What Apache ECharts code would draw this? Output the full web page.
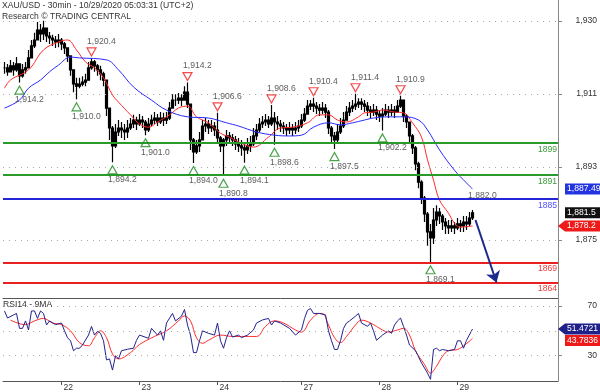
<!DOCTYPE html>
<html><head><meta charset="utf-8">
<script src="https://cdn.jsdelivr.net/npm/echarts@6/dist/echarts.min.js"></script>
<style>html,body{margin:0;padding:0;background:#fff}#c{width:600px;height:392px}</style>
</head><body><div id="c"></div>
<script>
const titleLine1 = 'XAU/USD - 30min - 10/29/2020 05:03:31 (UTC+2)';
const titleLine2 = 'Research © TRADING CENTRAL';
const rsiTitle = 'RSI14 - 9MA';
const slotCount = 185;
const dateIdx = [19, 45, 71, 99, 125, 151];
const dateLabels = ['22', '23', '24', '27', '28', '29'];

const closeP = [
1917.9,1916.9,1918.4,1917.4,1918.9,1915.9,1917.4,1917.9,1920.4,1923.4,
1924.9,1927.4,1926.4,1927.9,1925.9,1925.4,1924.9,1924.4,1924.9,1923.9,
1922.9,1920.9,1917.4,1913.9,1913.3,1913.8,1914.3,1914.8,1917.9,1919.4,
1918.4,1917.4,1916.4,1914.8,1907.8,1902.8,1898.3,1901.8,1902.8,1902.3,
1901.8,1902.8,1903.8,1904.8,1903.8,1904.8,1904.3,1902.3,1903.8,1904.8,
1905.3,1904.3,1905.3,1904.8,1905.3,1907.8,1909.8,1909.8,1910.3,1909.8,
1911.8,1908.8,1899.8,1896.8,1898.3,1899.8,1903.3,1903.8,1902.8,1903.3,
1902.3,1900.3,1898.3,1899.8,1900.8,1900.3,1899.8,1898.8,1898.3,1897.8,
1897.3,1898.3,1898.8,1900.8,1902.3,1903.8,1904.3,1904.8,1903.8,1905.3,
1904.3,1903.8,1903.3,1902.8,1902.3,1902.8,1902.3,1902.8,1903.3,1904.8,
1906.3,1908.3,1908.8,1908.3,1907.8,1907.3,1907.8,1906.8,1902.8,1900.8,
1899.8,1901.8,1903.3,1904.8,1906.8,1907.8,1908.3,1908.8,1909.3,1908.8,
1908.3,1907.3,1906.8,1907.3,1906.3,1905.8,1906.3,1907.3,1906.8,1907.3,
1906.8,1908.3,1909.8,1905.8,1904.3,1900.8,1897.8,1893.8,1889.2,1885.2,
1881.2,1876.7,1875.2,1879.7,1881.7,1880.7,1879.2,1878.2,1877.7,1878.2,
1877.7,1878.7,1878.2,1879.2,1878.7,1880.2,1881.5
];
const highP = [
1919.4,1918.9,1919.9,1919.4,1920.6,1917.9,1918.9,1919.4,1922.4,1924.9,
1926.7,1929.4,1928.9,1929.7,1927.9,1926.9,1926.2,1925.9,1926.4,1925.4,
1924.4,1922.9,1920.4,1916.4,1915.4,1915.4,1915.8,1916.4,1919.4,1920.4,
1919.9,1918.9,1918.4,1916.9,1914.8,1907.8,1903.3,1903.8,1904.8,1904.3,
1903.8,1904.8,1905.3,1906.1,1905.6,1906.3,1905.8,1904.8,1905.3,1906.1,
1906.8,1906.3,1906.8,1906.6,1906.8,1909.3,1911.3,1911.3,1911.6,1911.3,
1913.3,1914.2,1908.8,1900.3,1899.8,1901.8,1904.8,1905.3,1904.8,1904.8,
1904.3,1906.6,1900.8,1900.3,1902.3,1901.8,1901.3,1900.8,1900.3,1899.8,
1899.3,1900.3,1900.8,1902.8,1903.8,1905.3,1905.8,1906.3,1905.8,1908.6,
1906.8,1905.8,1904.8,1904.3,1903.8,1904.3,1903.8,1904.3,1904.8,1906.3,
1907.8,1909.8,1909.8,1910.4,1909.3,1908.8,1909.3,1908.8,1907.3,1903.3,
1901.8,1903.8,1905.3,1906.8,1908.3,1909.3,1909.8,1911.4,1910.3,1910.3,
1909.8,1909.3,1908.3,1908.8,1908.3,1907.3,1907.8,1908.8,1908.3,1908.8,
1908.3,1909.8,1910.9,1909.8,1906.3,1903.8,1901.3,1898.3,1894.3,1889.7,
1885.7,1881.7,1878.7,1882.7,1883.4,1882.7,1881.2,1880.2,1879.7,1879.7,
1879.2,1880.2,1879.7,1880.7,1880.7,1881.7,1882.2
];
const lowP = [
1916.4,1915.9,1916.9,1915.9,1916.9,1914.2,1915.4,1916.4,1917.9,1920.4,
1922.9,1924.9,1924.4,1924.9,1924.4,1923.9,1923.4,1922.9,1923.1,1922.4,
1921.4,1919.4,1915.9,1911.8,1910.0,1912.8,1913.3,1913.3,1914.8,1917.4,
1916.9,1915.9,1914.8,1913.3,1905.8,1899.8,1894.2,1897.8,1900.8,1900.3,
1899.8,1900.3,1902.3,1902.8,1902.3,1903.3,1902.8,1901.0,1901.8,1903.3,
1903.8,1903.3,1903.8,1903.3,1903.8,1904.8,1907.8,1908.3,1908.8,1908.3,
1909.8,1907.8,1897.3,1894.0,1896.3,1896.8,1900.3,1901.8,1901.3,1901.8,
1900.8,1898.8,1896.8,1890.8,1898.3,1898.8,1898.3,1897.3,1896.8,1895.8,
1894.1,1896.3,1896.8,1898.3,1899.8,1901.8,1902.8,1903.3,1902.8,1903.3,
1898.6,1902.3,1901.8,1901.3,1900.8,1901.3,1900.8,1901.3,1901.8,1902.8,
1904.3,1906.3,1907.3,1906.8,1906.3,1905.8,1906.3,1905.3,1901.3,1899.3,
1897.5,1899.3,1901.3,1902.8,1904.8,1905.8,1906.8,1907.3,1907.8,1907.3,
1906.8,1905.8,1905.3,1905.8,1904.8,1904.3,1902.2,1905.8,1905.3,1905.8,
1905.3,1906.8,1907.8,1904.3,1902.8,1899.3,1896.3,1892.2,1887.7,1883.7,
1879.2,1873.2,1869.1,1873.7,1878.2,1878.7,1877.2,1876.2,1876.2,1876.7,
1876.2,1877.2,1876.7,1876.7,1877.2,1878.2,1879.7
];

const maRedIdx = [0,2,8,13,18,21,24,27,30,33,36,38,42,45,48,51,55,58,61,64,68,72,75,78,83,88,92,96,101,105,108,111,114,118,120,123,126,130,133,136,139,141,143,145,148,150,152,156];
const maRedVal = [1912.8,1914.85,1917.4,1922.4,1924.4,1924.9,1922.4,1919.4,1917.9,1915.4,1911.1,1909.3,1906.1,1903.8,1903.0,1904.3,1906.1,1907.8,1908.3,1905.6,1904.1,1901.5,1900.5,1899.3,1898.0,1900.5,1902.8,1903.0,1904.1,1906.1,1906.1,1904.8,1904.3,1905.6,1906.6,1906.8,1907.3,1906.8,1906.6,1904.1,1900.5,1894.8,1889.7,1884.7,1881.4,1878.9,1877.9,1878.2];
const maBlueIdx = [0,5,8,12,15,18,22,25,34,38,43,49,54,61,68,74,78,84,90,95,99,103,108,112,116,120,123,128,133,138,141,145,150,154,156];
const maBlueVal = [1907.8,1909.8,1912.8,1914.85,1916.9,1918.6,1920.6,1920.4,1919.9,1917.4,1913.1,1909.8,1907.3,1905.6,1905.3,1904.1,1903.3,1901.8,1901.0,1900.8,1901.0,1903.0,1904.1,1903.6,1904.1,1904.8,1905.3,1905.6,1905.6,1904.8,1902.3,1897.3,1892.2,1889.0,1887.49];

const lowMarkIdx = [5,24,36,47,63,73,80,90,110,126,142];
const lowMarkVal = [1914.2,1910.0,1894.2,1901.0,1894.0,1890.8,1894.1,1898.6,1897.5,1902.2,1869.1];
const highMarkIdx = [29,61,71,89,103,117,132];
const highMarkVal = [1920.4,1914.2,1906.6,1908.6,1910.4,1911.4,1910.9];

const levelVals = [1899, 1891, 1885, 1869, 1864];
const levelColors = ['#2a9a2a', '#2a9a2a', '#2424d8', '#e82020', '#e82020'];
const levelTextColors = ['#3a9a3a', '#3a9a3a', '#5050ff', '#f03a3a', '#f03a3a'];

const priceMin = 1860.11, priceMax = 1934.94;
const priceTickVals = [1874.667, 1893, 1911.333, 1929.667];
const priceTickLabels = ['1,875', '1,893', '1,911', '1,930'];
const rsiMin = 9.64, rsiMax = 75.63;
const rsiTickVals = [70, 30];
const rsiGridVals = [70, 50, 30];

const rsiIdx = [0,1,3,4,5,6,7,8,9,10,11,12,13,14,15,17,19,20,21,22,23,24,25,26,28,29,30,31,32,33,34,35,36,37,38,39,41,43,44,45,48,49,51,52,53,54,56,57,59,60,61,62,63,64,65,66,68,70,71,72,73,74,75,76,78,79,81,83,84,86,88,89,90,92,95,97,99,100,101,102,103,105,107,108,109,110,111,112,113,114,115,117,118,119,121,122,123,124,126,128,129,130,131,132,133,134,135,137,139,141,142,143,144,145,146,148,150,151,152,153,154,156];
const rsiVal = [66,60.3,62.8,64,52,52,58,50.7,66,66,60,66,64,54.7,58,55,56.3,50,44.5,42,34,36,36,38.6,46.6,53.6,46.6,49.6,48,42,26.6,27.4,18.4,30,27.4,34,35.2,36,42.4,46.6,44,52,46.6,50,42.4,56.3,64,58,61.8,67.2,54.7,46.6,32.5,32.5,42,50,48,46.6,56.3,42,36,44.5,50,45,46.6,44.5,46.6,50.7,56.3,58.8,60,54.7,58,56.3,52,46.6,50.7,60,66.5,68,64,64,62.8,50,42,35,35,42,52,56.3,58,61.8,64,56.3,53.6,56.3,50,42.4,46.6,50,48,54.7,58,60.3,53.6,46.6,38.6,34,24.2,16,11,35,36,34,35,34,35,42,42,36,42.4,51.47];
const rsiMaIdx = [2,7,10,13,16,19,22,25,28,30,32,34,36,38,42,45,50,54,58,60,62,64,66,68,72,76,79,84,87,90,93,97,99,102,105,106,108,110,112,114,117,119,122,126,128,131,133,135,137,140,142,144,146,148,151,153,156];
const rsiMaVal = [58.6,55,58,60,56.3,55,50,40.5,38,44.5,50,44.5,31.4,27.4,32.5,39,45.5,50,58,62,58,44.4,40,42.4,46.6,45.5,45.5,45.5,53.6,58,56.3,50.7,49,58.6,64,64,54.7,44.5,40.5,45.5,54.7,58.6,56.3,50.7,49,50.7,52,46.6,34,23,16,21.5,29.5,34,35,37.9,43.78];

const projFrom = [157, 1879.7], projTo = [164, 1864.0];
const noteIdx = 154, noteVal = 1882.0;
const tagBlueVal = 1887.49, tagLastVal = 1881.5, tagRedVal = 1878.2;
const tagRsiVal = 51.4721, tagRsiMaVal = 43.7836;

const FONT = "'Liberation Sans', Arial, sans-serif";
const FS = 8.6;
function fmt1(v) { return v.toLocaleString('en-US', {minimumFractionDigits: 1, maximumFractionDigits: 1}); }
function fmt2(v) { return v.toLocaleString('en-US', {minimumFractionDigits: 2, maximumFractionDigits: 2}); }

const slots = Array.from({length: slotCount}, (_, i) => String(i));
const candles = closeP.map((c, i) => {
  const o = i === 0 ? c : closeP[i - 1];
  return [o, c, Math.min(lowP[i], o, c), Math.max(highP[i], o, c)];
});
const pairs = (a, b) => a.map((x, i) => [x, b[i]]);

const chart = echarts.init(document.getElementById('c'), null, {renderer: 'canvas'});
const option = {
  animation: false,
  backgroundColor: '#fff',
  title: [
    {text: titleLine1 + '\n' + titleLine2, left: 2, top: 0, padding: 0,
     textStyle: {fontSize: FS, fontWeight: 'normal', color: '#333', lineHeight: 11, fontFamily: FONT}},
    {text: rsiTitle, left: 3, top: 299, padding: 0,
     textStyle: {fontSize: FS, fontWeight: 'normal', color: '#333', lineHeight: 11, fontFamily: FONT}}
  ],
  grid: [
    {left: 3, right: 42, top: 0, height: 298},
    {left: 3, right: 42, top: 299, height: 82}
  ],
  xAxis: [
    {type: 'category', gridIndex: 0, data: slots, boundaryGap: true,
     axisLine: {show: true, lineStyle: {color: '#555', width: 1}}, axisTick: {show: false}, axisLabel: {show: false}, splitLine: {show: false}},
    {type: 'category', gridIndex: 1, data: slots, boundaryGap: true,
     axisLine: {show: true, lineStyle: {color: '#555', width: 1}},
     axisTick: {show: true, alignWithLabel: true, length: 4, lineStyle: {color: '#555'},
       interval: (i) => dateIdx.indexOf(i) >= 0},
     axisLabel: {show: true, interval: (i) => dateIdx.indexOf(i) >= 0,
       formatter: (v, i) => { const k = dateIdx.indexOf(Number(v)); return k >= 0 ? dateLabels[k] : ''; },
       align: 'left', margin: 2, padding: [0, 0, 0, 2], fontSize: FS, color: '#333', fontFamily: FONT},
     splitLine: {show: false}}
  ],
  yAxis: [
    {type: 'value', gridIndex: 0, position: 'right', min: priceMin, max: priceMax, scale: true,
     axisLine: {show: true, lineStyle: {color: '#888'}},
     axisTick: {show: true, length: 4, customValues: priceTickVals, lineStyle: {color: '#888'}},
     axisLabel: {show: true, customValues: priceTickVals, align: 'right', margin: 39,
       formatter: (v) => { let k = 0, d = 1e9; priceTickVals.forEach((t, j) => { if (Math.abs(t - v) < d) { d = Math.abs(t - v); k = j; } }); return priceTickLabels[k]; },
       fontSize: FS, color: '#333', fontFamily: FONT},
     splitLine: {show: false}},
    {type: 'value', gridIndex: 1, position: 'right', min: rsiMin, max: rsiMax,
     axisLine: {show: true, lineStyle: {color: '#888'}},
     axisTick: {show: true, length: 4, customValues: rsiTickVals, lineStyle: {color: '#888'}},
     axisLabel: {show: true, customValues: rsiTickVals, align: 'right', margin: 39,
       formatter: (v) => String(Math.round(v)), fontSize: FS, color: '#333', fontFamily: FONT},
     splitLine: {show: false}}
  ],
  series: [
    {type: 'line', name: 'grid', xAxisIndex: 0, yAxisIndex: 0, data: [[0, priceTickVals[0]]], symbol: 'none',
     lineStyle: {opacity: 0}, silent: true, z: 1,
     markLine: {silent: true, symbol: ['none', 'none'], animation: false, label: {show: false},
       lineStyle: {color: '#aaa', type: [1, 5], width: 1},
       data: priceTickVals.map(v => ({yAxis: v}))}},
    {type: 'line', name: 'levels', xAxisIndex: 0, yAxisIndex: 0, data: [[0, levelVals[0]]], symbol: 'none',
     lineStyle: {opacity: 0}, silent: true, z: 2,
     markLine: {silent: true, symbol: ['none', 'none'], animation: false,
       data: levelVals.map((v, i) => ({yAxis: v,
         lineStyle: {color: levelColors[i], width: 1.8, type: 'solid'},
         label: {show: true, position: 'insideEndBottom', formatter: String(v), color: levelTextColors[i],
           fontSize: FS, fontFamily: FONT, distance: [1, 2]}}))}},
    {type: 'candlestick', name: 'price', xAxisIndex: 0, yAxisIndex: 0, data: candles, barWidth: 2.6, z: 3,
     itemStyle: {color: '#000', color0: '#000', borderColor: '#000', borderColor0: '#000', borderWidth: 1.2},
     markLine: {silent: true, symbol: ['none', 'arrow'], symbolSize: 11, animation: false, label: {show: false},
       lineStyle: {color: '#1c2a8c', width: 2, type: 'solid'},
       data: [[{coord: projFrom}, {coord: projTo}]]}},
    {type: 'line', name: 'maRed', xAxisIndex: 0, yAxisIndex: 0, data: pairs(maRedIdx, maRedVal), smooth: 0.4,
     symbol: 'none', lineStyle: {color: '#ff2a2a', width: 1}, z: 4},
    {type: 'line', name: 'maBlue', xAxisIndex: 0, yAxisIndex: 0, data: pairs(maBlueIdx, maBlueVal), smooth: 0.4,
     symbol: 'none', lineStyle: {color: '#2a2aff', width: 1}, z: 4},
    {type: 'scatter', name: 'lowMarks', xAxisIndex: 0, yAxisIndex: 0, data: pairs(lowMarkIdx, lowMarkVal),
     symbol: 'triangle', symbolSize: [9, 8], symbolOffset: [0, 7.5], z: 5,
     itemStyle: {color: 'rgba(255,255,255,0)', borderColor: '#1e8c1e', borderWidth: 1.2}},
    {type: 'scatter', name: 'highMarks', xAxisIndex: 0, yAxisIndex: 0, data: pairs(highMarkIdx, highMarkVal),
     symbol: 'triangle', symbolRotate: 180, symbolSize: [9, 8], symbolOffset: [0, -6], z: 5,
     itemStyle: {color: 'rgba(255,255,255,0)', borderColor: '#ee2020', borderWidth: 1.2}},
    {type: 'scatter', name: 'lowLabels', xAxisIndex: 0, yAxisIndex: 0, data: pairs(lowMarkIdx, lowMarkVal),
     symbolSize: 1, itemStyle: {color: 'rgba(0,0,0,0)'}, z: 6,
     label: {show: true, position: [-4, 18], align: 'left', verticalAlign: 'middle',
       formatter: (p) => fmt1(p.value[1]), fontSize: FS, color: '#333', fontFamily: FONT}},
    {type: 'scatter', name: 'highLabels', xAxisIndex: 0, yAxisIndex: 0, data: pairs(highMarkIdx, highMarkVal),
     symbolSize: 1, itemStyle: {color: 'rgba(0,0,0,0)'}, z: 6,
     label: {show: true, position: [-4, -16], align: 'left', verticalAlign: 'middle',
       formatter: (p) => fmt1(p.value[1]), fontSize: FS, color: '#333', fontFamily: FONT}},
    {type: 'scatter', name: 'note', xAxisIndex: 0, yAxisIndex: 0, data: [[noteIdx, noteVal]],
     symbolSize: 1, itemStyle: {color: 'rgba(0,0,0,0)'}, z: 6,
     label: {show: true, position: [2, -15], align: 'left', verticalAlign: 'middle',
       formatter: (p) => fmt1(p.value[1]), fontSize: FS, color: '#333', fontFamily: FONT}},
    {type: 'line', name: 'rsi', xAxisIndex: 1, yAxisIndex: 1, data: pairs(rsiIdx, rsiVal), smooth: false,
     symbol: 'none', lineStyle: {color: '#23238f', width: 1}, z: 4,
     markLine: {silent: true, symbol: ['none', 'none'], animation: false, label: {show: false},
       lineStyle: {color: '#aaa', type: [1, 5], width: 1},
       data: rsiGridVals.map(v => ({yAxis: v}))}},
    {type: 'line', name: 'rsiMa', xAxisIndex: 1, yAxisIndex: 1, data: pairs(rsiMaIdx, rsiMaVal), smooth: 0.4,
     symbol: 'none', lineStyle: {color: '#ff2a2a', width: 1}, z: 3}
  ]
};
chart.setOption(option);

const axisX = 600 - 42;
function tagEls(y, text, bg, arrow) {
  const els = [];
  if (arrow) els.push({type: 'polygon', shape: {points: [[axisX, y], [axisX + 7, y - 5.5], [axisX + 7, y + 5.5]]}, style: {fill: bg}, z: 100});
  els.push({type: 'rect', shape: {x: axisX + 7, y: y - 5.5, width: 45, height: 11}, style: {fill: bg}, z: 100});
  els.push({type: 'text', x: axisX + 9, y: y, style: {text: text, fill: '#fff', font: FS + 'px ' + FONT, verticalAlign: 'middle', textVerticalAlign: 'middle'}, z: 101});
  return els;
}
const g = [];
const yB = chart.convertToPixel({yAxisIndex: 0}, tagBlueVal);
const yL = chart.convertToPixel({yAxisIndex: 0}, tagLastVal);
const yR = chart.convertToPixel({yAxisIndex: 0}, tagRedVal);
g.push(...tagEls(yB, fmt2(tagBlueVal), '#2233e0', false));
g.push(...tagEls(yL, fmt1(tagLastVal), '#111', false));
g.push(...tagEls(yR, fmt1(tagRedVal), '#ee1a1a', true));
const yRsi = chart.convertToPixel({yAxisIndex: 1}, tagRsiVal);
let yRsiMa = chart.convertToPixel({yAxisIndex: 1}, tagRsiMaVal);
if (yRsiMa - yRsi < 11.5) yRsiMa = yRsi + 11.5;
g.push(...tagEls(yRsi, String(tagRsiVal), '#20208a', true));
g.push(...tagEls(yRsiMa, String(tagRsiMaVal), '#ee1a1a', false));
chart.setOption({graphic: g});
</script></body></html>
